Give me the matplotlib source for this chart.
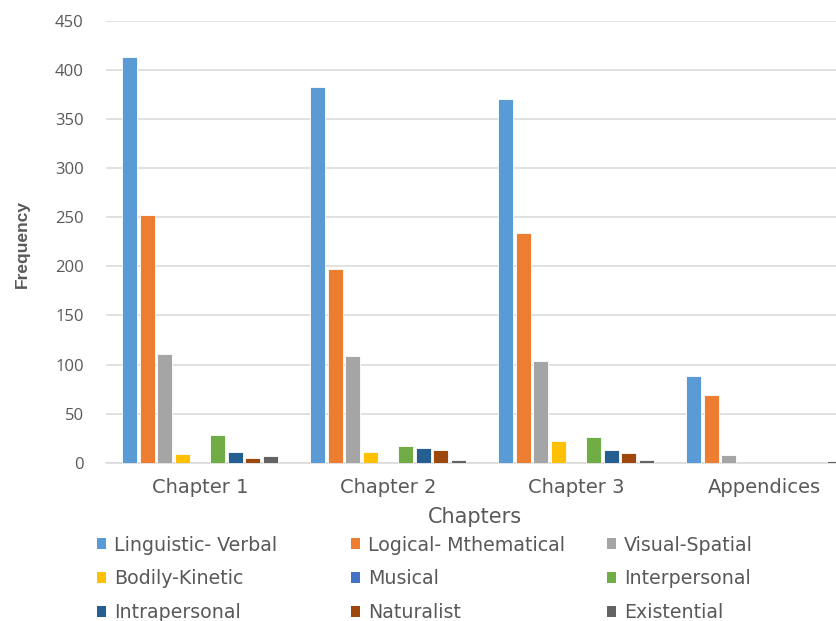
import numpy as np
import matplotlib.pyplot as plt
from matplotlib.patches import Patch

# Data
chapters = ['Chapter 1', 'Chapter 2', 'Chapter 3', 'Appendices']
series_names = ['Linguistic- Verbal', 'Logical- Mthematical', 'Visual-Spatial',
                'Bodily-Kinetic', 'Musical', 'Interpersonal',
                'Intrapersonal', 'Naturalist', 'Existential']
linguistic = [413, 383, 371, 88]
logical = [252, 197, 234, 69]
visual = [111, 109, 104, 8]
bodily = [9, 11, 22, 0]
musical = [0, 0, 0, 0]
interpersonal = [28, 17, 26, 0]
intrapersonal = [11, 15, 13, 0]
naturalist = [5, 13, 10, 0]
existential = [7, 3, 3, 2]

colors = ['#5B9BD5', '#ED7D31', '#A5A5A5', '#FFC000', '#4472C4',
          '#70AD47', '#255E91', '#9E480E', '#636363']

all_series = [linguistic, logical, visual, bodily, musical,
              interpersonal, intrapersonal, naturalist, existential]

text_col = '#595959'
grid_col = '#D9D9D9'

fig = plt.figure(figsize=(8.37, 6.21), dpi=100)
ax = fig.add_axes([106 / 837, (621 - 462.7) / 621, 752 / 837, (462.7 - 21) / 621])

x = np.arange(len(chapters))
pitch = 0.0936
width = 0.078
handles = []
for i, (vals, c, name) in enumerate(zip(all_series, colors, series_names)):
    offs = (i - 4) * pitch
    ax.bar(x + offs, vals, width=width, color=c, edgecolor='white', linewidth=0.6, zorder=3)
    handles.append(Patch(facecolor=c, edgecolor='none', label=name))

ax.set_xlim(-0.5, 3.5)
ax.set_ylim(0, 450)
ax.set_yticks(np.arange(0, 451, 50))
ax.set_xticks(x)
ax.set_xticklabels(chapters)
ax.grid(axis='y', color=grid_col, linewidth=1.1, zorder=0)
for s in ['top', 'right', 'left']:
    ax.spines[s].set_visible(False)
ax.spines['bottom'].set_color(grid_col)
ax.spines['bottom'].set_linewidth(1.1)
ax.tick_params(axis='both', length=0, colors=text_col)
ax.tick_params(axis='y', pad=16, labelsize=12)
ax.tick_params(axis='x', pad=11, labelsize=14)
for lbl in ax.get_yticklabels():
    lbl.set_fontfamily('Open Sans')
for lbl in ax.get_xticklabels():
    lbl.set_fontfamily('DejaVu Sans')

ax.set_xlabel('Chapters', fontsize=15, color=text_col, family='DejaVu Sans')
ax.xaxis.set_label_coords(0.49, -0.123)
ax.xaxis.label.set_va('center')
fig.text(22 / 837, 1 - 244 / 621, 'Frequency', rotation=90, ha='center', va='center',
         fontsize=12.5, fontweight='bold', color=text_col,
         family=['Liberation Sans', 'DejaVu Sans'])

# Legend: three columns placed like the reference, rows in row-major order
col_x = [89, 343, 599]
for j in range(3):
    hs = [handles[j], handles[j + 3], handles[j + 6]]
    leg = fig.legend(handles=hs, loc='upper left',
                     bbox_to_anchor=(col_x[j] / 837, 1 - 528 / 621),
                     frameon=False, handlelength=0.5, handleheight=0.5,
                     handletextpad=0.4, labelspacing=0.77, borderaxespad=0,
                     prop={'family': 'DejaVu Sans', 'size': 13.7})
    for t in leg.get_texts():
        t.set_color(text_col)

fig.savefig('out.png', dpi=100)
